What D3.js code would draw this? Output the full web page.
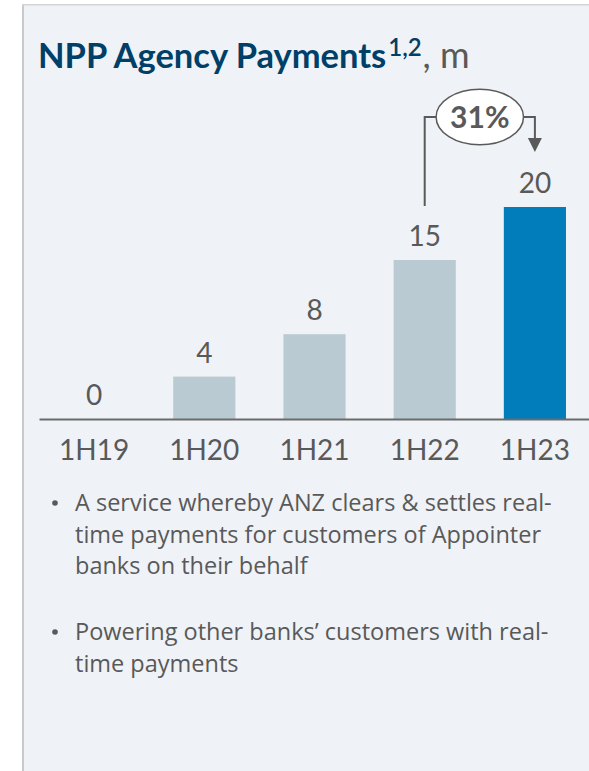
<!DOCTYPE html>
<html>
<head>
<meta charset="utf-8">
<script src="https://cdn.jsdelivr.net/npm/d3@7"></script>
<style>
  html, body { margin: 0; padding: 0; background: #ffffff; }
  svg { display: block; }
</style>
</head>
<body>
<script>
// Half-year NPP agency payment volumes (millions)
const categories = ["1H19", "1H20", "1H21", "1H22", "1H23"];
const values = [0, 4, 8, 15, 20];
const valueLabels = ["0", "4", "8", "15", "20"];
const highlightCategory = "1H23";
const growthFrom = "1H22";
const growthTo = "1H23";
const growthLabel = "31%";
const bulletLines = [
  ["A service whereby ANZ clears & settles real-",
   "time payments for customers of Appointer",
   "banks on their behalf"],
  ["Powering other banks\u2019 customers with real-",
   "time payments"]
];

const W = 589, H = 771;
const FONT = "Lato, 'Open Sans', sans-serif";
const BODY_FONT = "'Open Sans', Lato, sans-serif";
const GREY_TEXT = "#595959";

const svg = d3.select("body").append("svg")
  .attr("width", W).attr("height", H);

// Card background and borders
svg.append("rect")
  .attr("x", 23).attr("y", 4.5).attr("width", W).attr("height", H)
  .attr("fill", "#eff2f6");
svg.append("line")
  .attr("x1", 23).attr("x2", 23).attr("y1", 4).attr("y2", H)
  .attr("stroke", "#c9c9c9").attr("stroke-width", 2);
svg.append("line")
  .attr("x1", 22).attr("x2", W).attr("y1", 4.75).attr("y2", 4.75)
  .attr("stroke", "#d3d3d3").attr("stroke-width", 1.5);

// Title
const title = svg.append("text")
  .attr("x", 38).attr("y", 68)
  .attr("font-family", FONT)
  .attr("font-size", 34.5)
  .attr("font-weight", 700)
  .attr("fill", "#004068");
title.append("tspan").text("NPP Agency Payments");
title.append("tspan").attr("font-size", 24).attr("font-weight", 600)
  .attr("dx", 2).attr("dy", -12).text("1,2");
title.append("tspan").attr("dy", 12).attr("dx", 1).attr("fill", GREY_TEXT)
  .attr("font-weight", 400).attr("font-size", 36).text(", m");

// Scales
const x = d3.scaleBand()
  .domain(categories)
  .range([39, 590])
  .paddingInner(0.436)
  .paddingOuter(0.218);
const y = d3.scaleLinear().domain([0, 20]).range([419, 207]);

const data = categories.map((c, i) => ({ c, v: values[i], label: valueLabels[i] }));

// Bars
svg.append("g").selectAll("rect")
  .data(data)
  .join("rect")
  .attr("x", d => x(d.c))
  .attr("width", x.bandwidth())
  .attr("y", d => y(d.v))
  .attr("height", d => y(0) - y(d.v))
  .attr("fill", d => d.c === highlightCategory ? "#007dba" : "#b9cad2");

// Value labels
svg.append("g").selectAll("text")
  .data(data)
  .join("text")
  .attr("x", d => x(d.c) + x.bandwidth() / 2)
  .attr("y", d => y(d.v) - 14)
  .attr("text-anchor", "middle")
  .attr("font-family", FONT)
  .attr("font-size", 28)
  .attr("fill", GREY_TEXT)
  .text(d => d.label);

// Category axis
const axis = svg.append("g")
  .attr("transform", `translate(0,${y(0)})`)
  .call(d3.axisBottom(x).tickSize(0).tickSizeOuter(0).tickPadding(21));
axis.select(".domain").attr("stroke", "#6b6b6b").attr("stroke-width", 2);
axis.selectAll("text")
  .attr("font-family", FONT)
  .attr("font-size", 28)
  .attr("fill", GREY_TEXT);

// Growth annotation between the last two bars
const xa = x(growthFrom) + x.bandwidth() / 2;
const xb = x(growthTo) + x.bandwidth() / 2;
const ya = y(values[categories.indexOf(growthFrom)]) - 54;
const yTop = 117;
const cx = (xa + xb) / 2, rx = 43.7, ry = 27.8;
const ann = svg.append("g").attr("fill", "none").attr("stroke", "#5a5a5a").attr("stroke-width", 2);
ann.append("path").attr("d", `M${xa},${ya}V${yTop}H${cx - rx}`);
ann.append("path").attr("d", `M${cx + rx},${yTop}H${xb}V${yTop + 22}`);
svg.append("path")
  .attr("d", `M${xb - 7},${yTop + 21}L${xb + 7},${yTop + 21}L${xb},${yTop + 35}Z`)
  .attr("fill", "#5a5a5a");
svg.append("ellipse")
  .attr("cx", cx).attr("cy", yTop).attr("rx", rx).attr("ry", ry)
  .attr("fill", "#ffffff").attr("stroke", "#5a5a5a").attr("stroke-width", 1.5);
svg.append("text")
  .attr("x", cx).attr("y", yTop + 11)
  .attr("text-anchor", "middle")
  .attr("font-family", FONT)
  .attr("font-size", 30)
  .attr("font-weight", 700)
  .attr("fill", GREY_TEXT)
  .text(growthLabel);

// Bullet points
const paraStart = [511, 640];
const lineGap = 31.5;
bulletLines.forEach((lines, p) => {
  svg.append("circle")
    .attr("cx", 55).attr("cy", paraStart[p] - 8).attr("r", 2.8)
    .attr("fill", GREY_TEXT);
  lines.forEach((t, i) => {
    svg.append("text")
      .attr("x", 75).attr("y", paraStart[p] + i * lineGap)
      .attr("font-family", BODY_FONT)
      .attr("font-size", 23.5)
      .attr("fill", GREY_TEXT)
      .text(t);
  });
});
</script>
</body>
</html>
